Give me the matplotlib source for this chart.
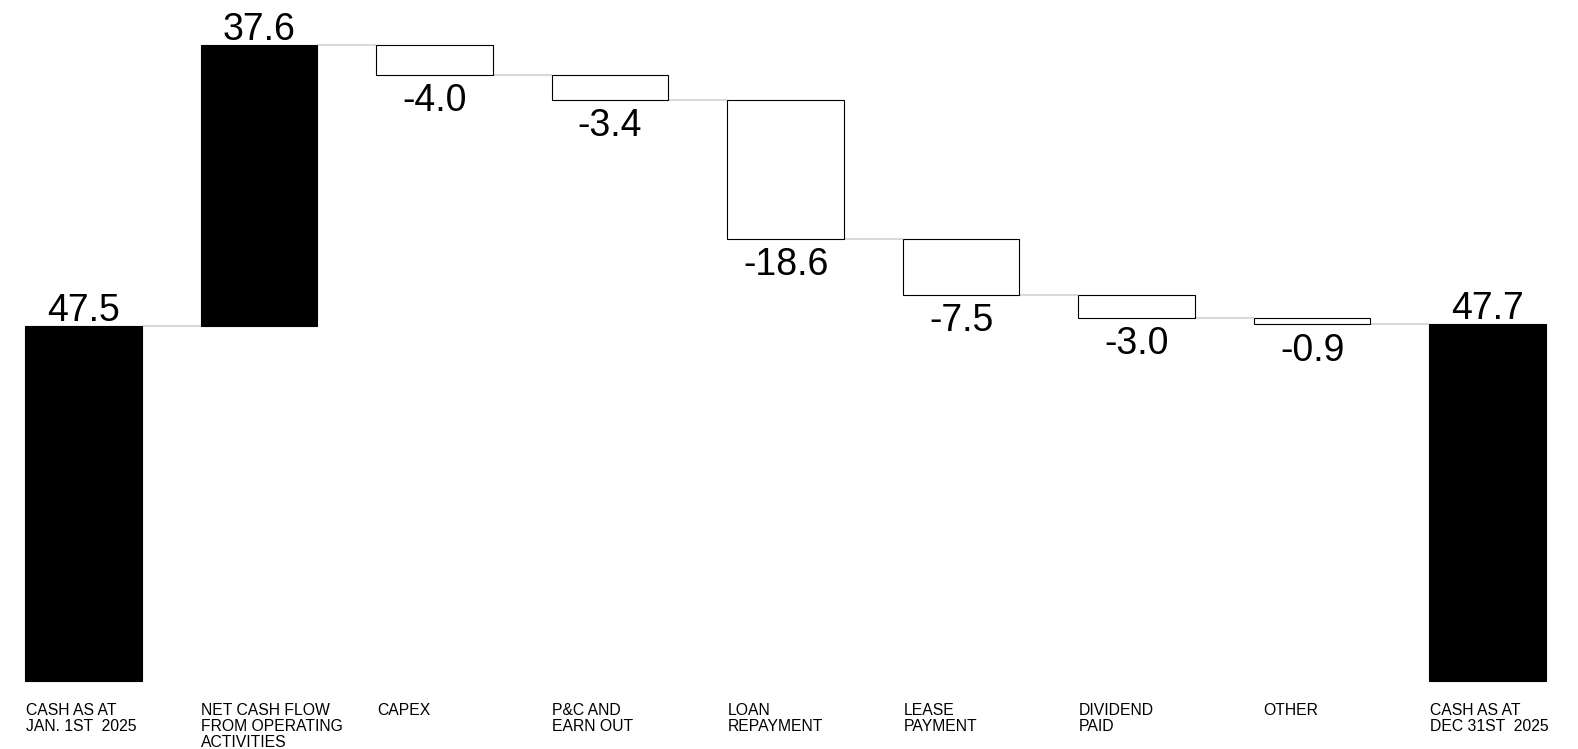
import matplotlib.pyplot as plt


CATEGORIES = [
    "CASH AS AT\nJAN. 1ST  2025",
    "NET CASH FLOW\nFROM OPERATING\nACTIVITIES",
    "CAPEX",
    "P&C AND\nEARN OUT",
    "LOAN\nREPAYMENT",
    "LEASE\nPAYMENT",
    "DIVIDEND\nPAID",
    "OTHER",
    "CASH AS AT\nDEC 31ST  2025",
]
VALUES = [47.5, 37.6, -4.0, -3.4, -18.6, -7.5, -3.0, -0.9, 47.7]
IS_TOTAL = [True, False, False, False, False, False, False, False, True]

BAR_WIDTH = 0.665
CONNECTOR_COLOR = "#d9d9d9"
VALUE_FONT = 27
LABEL_FONT = 11.3


def waterfall_bars(values, is_total):
    bottoms, heights, levels = [], [], []
    running = 0.0
    for value, total in zip(values, is_total):
        if total:
            bottoms.append(0.0)
            heights.append(value)
            running = value
        else:
            bottoms.append(running)
            heights.append(value)
            running += value
        levels.append(running)
    return bottoms, heights, levels


def main():
    plt.rcParams["font.family"] = ["Liberation Sans", "DejaVu Sans"]

    fig = plt.figure(figsize=(15.78, 7.49), dpi=100)
    ax = fig.add_axes([0, 0, 1, 1])

    bottoms, heights, levels = waterfall_bars(VALUES, IS_TOTAL)
    xs = list(range(len(VALUES)))

    for x, bottom, height, value, total in zip(xs, bottoms, heights, VALUES, IS_TOTAL):
        filled = total or value > 0
        ax.bar(
            x, height, bottom=bottom, width=BAR_WIDTH,
            color="black" if filled else "white",
            edgecolor="black", linewidth=0.8, zorder=3,
        )
        top = bottom + height
        if value > 0:
            ax.annotate(
                f"{value:.1f}", (x, top), xytext=(0, 3.5), textcoords="offset points",
                ha="center", va="baseline", fontsize=VALUE_FONT,
            )
        else:
            ax.annotate(
                f"{value:.1f}", (x, top), xytext=(0, -6), textcoords="offset points",
                ha="center", va="top", fontsize=VALUE_FONT,
            )

    # connectors between consecutive bars at the running total
    for x, level in zip(xs[:-1], levels[:-1]):
        ax.plot(
            [x + BAR_WIDTH / 2, x + 1 - BAR_WIDTH / 2], [level, level],
            color=CONNECTOR_COLOR, linewidth=1.5, zorder=2, solid_capstyle="butt",
        )

    label_nudge = {"OTHER": 7}
    for x, label in zip(xs, CATEGORIES):
        ax.annotate(
            label, (x - BAR_WIDTH / 2, 0),
            xytext=(label_nudge.get(label, 0.5), -16), textcoords="offset points",
            ha="left", va="top", fontsize=LABEL_FONT, linespacing=1.1,
        )

    ax.set_xlim(-0.476, 8.515)
    ax.set_ylim(-9.14, 91.1)
    ax.axis("off")

    fig.savefig("out.png", dpi=100)


if __name__ == "__main__":
    main()
